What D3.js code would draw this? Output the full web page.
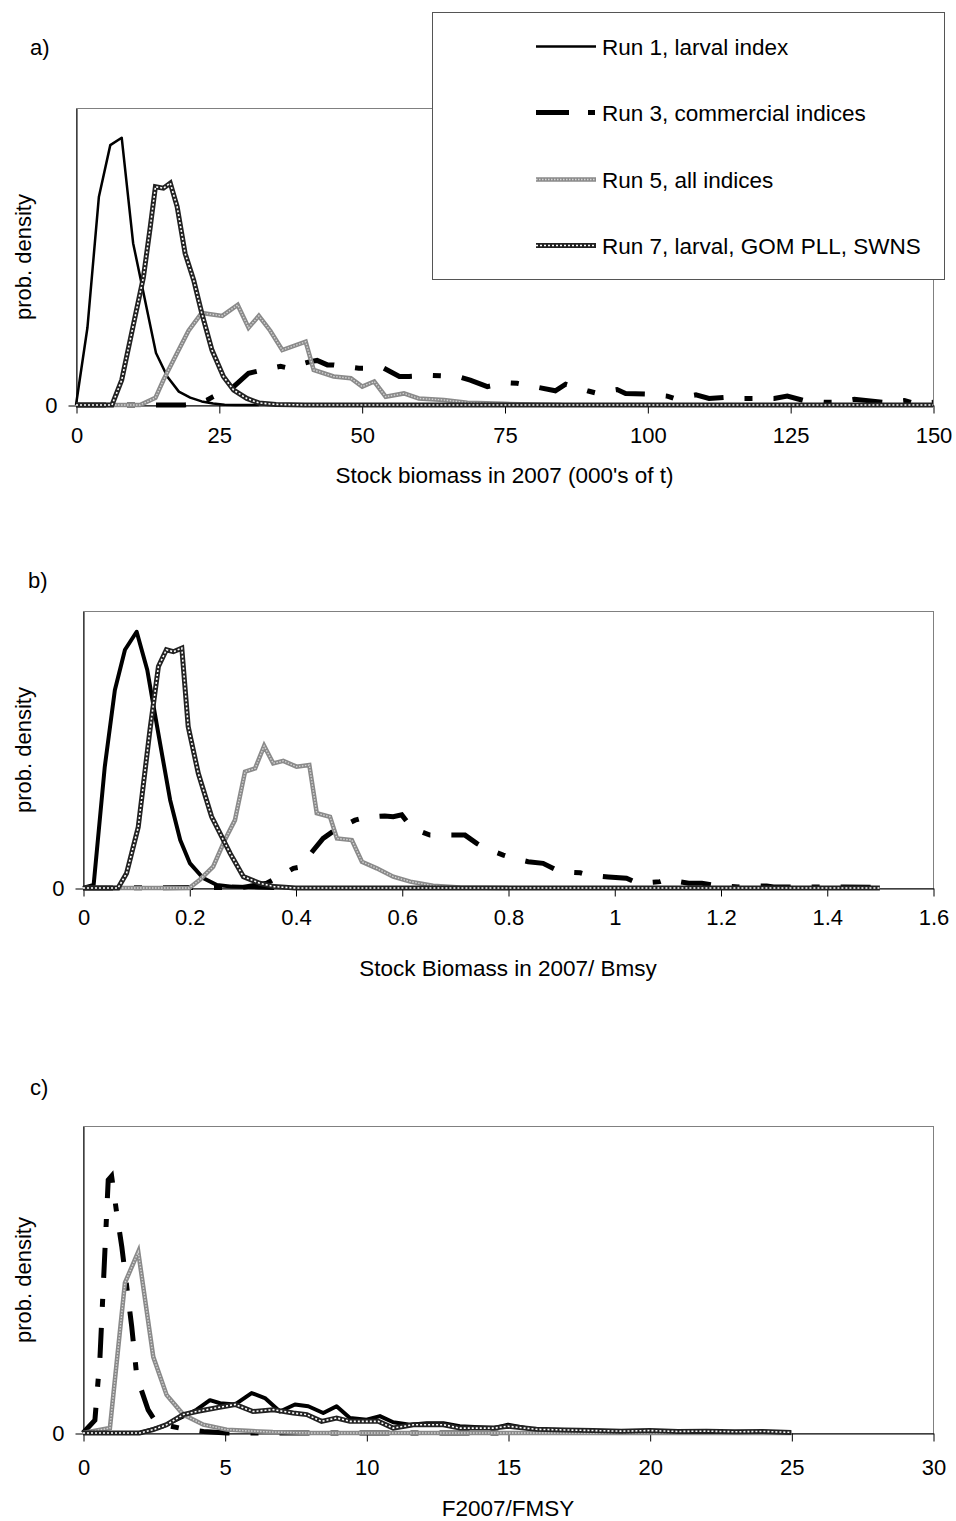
<!DOCTYPE html>
<html>
<head>
<meta charset="utf-8">
<script src="https://cdn.jsdelivr.net/npm/d3@7"></script>
<style>
  body { margin: 0; background: #fff; }
  text { font-family: "Liberation Sans", Arial, sans-serif; fill: #000; }
</style>
</head>
<body>
<div id="chart"></div>
<script>
const width = 956;
const height = 1521;

// legend / series names
const seriesNames = ['Run 1, larval index', 'Run 3, commercial indices', 'Run 5, all indices', 'Run 7, larval, GOM PLL, SWNS'];

// x tick labels per panel
const ticksA = [0, 25, 50, 75, 100, 125, 150];
const ticksB = [0, 0.2, 0.4, 0.6, 0.8, 1, 1.2, 1.4, 1.6];
const ticksC = [0, 5, 10, 15, 20, 25, 30];

// panel a) stock biomass in 2007 (000's of t), relative density
const aRun1 = [[0,0],[2,0.26],[4,0.70],[6,0.875],[8,0.90],[10,0.545],[12,0.36],[14,0.175],[16,0.095],[18,0.045],[20,0.025],[22,0.012],[24,0.005],[26,0.001],[28,0],[32,0]];
const aRun3 = [[0,0],[19,0],[21,0.004],[23,0.017],[24,0.028],[27.6,0.062],[30.2,0.107],[32,0.115],[35.8,0.13],[37,0.125],[41,0.146],[42.2,0.15],[44,0.135],[45.1,0.135],[49.5,0.124],[53.9,0.124],[56.6,0.096],[58.3,0.096],[62.1,0.10],[66.8,0.096],[69,0.084],[72,0.062],[75.5,0.075],[77.2,0.073],[80.7,0.06],[83.9,0.048],[85.7,0.07],[89.5,0.048],[90.9,0.041],[94.7,0.052],[96.2,0.039],[99.7,0.037],[103.5,0.03],[104.7,0.022],[108.5,0.034],[110.8,0.022],[113.7,0.026],[116.9,0.022],[118.6,0.022],[122.2,0.022],[124.5,0.03],[127.4,0.015],[131,0.009],[132.6,0.009],[136.2,0.019],[141.5,0.009],[145,0.015],[146.7,0.006],[150,0.009]];
const aRun5 = [[0,0],[11.2,0],[13.9,0.024],[15.3,0.084],[17.7,0.175],[19.7,0.25],[22,0.31],[25.6,0.30],[28.3,0.337],[30.2,0.26],[32,0.30],[34,0.25],[36.1,0.185],[40.2,0.213],[41.6,0.118],[45.1,0.096],[48.1,0.09],[50.1,0.062],[52.2,0.079],[54.2,0.028],[57.4,0.039],[60,0.022],[64.4,0.017],[68.5,0.008],[75,0.004],[80,0.002],[85,0]];
const aRun7 = [[0,0],[6.3,0],[8,0.084],[10.1,0.275],[11.8,0.43],[13,0.60],[13.9,0.735],[15.3,0.73],[16.5,0.747],[17.7,0.668],[19.1,0.51],[20.6,0.42],[22,0.31],[23.8,0.185],[25.8,0.096],[27.6,0.05],[29.9,0.022],[32,0.007],[35,0.002],[40,0],[150,0]];

// panel b) stock biomass in 2007 / Bmsy
const bRun1 = [[0,0],[0.02,0.011],[0.041,0.438],[0.06,0.715],[0.079,0.86],[0.101,0.925],[0.121,0.787],[0.134,0.643],[0.145,0.523],[0.164,0.318],[0.183,0.173],[0.201,0.09],[0.226,0.036],[0.252,0.011],[0.28,0.005],[0.33,0.002],[0.36,0]];
const bRun3 = [[0,0],[0.3,0.002],[0.346,0.017],[0.358,0.03],[0.396,0.071],[0.408,0.075],[0.434,0.137],[0.452,0.179],[0.474,0.209],[0.512,0.245],[0.531,0.255],[0.568,0.26],[0.584,0.257],[0.60,0.264],[0.619,0.216],[0.653,0.191],[0.703,0.191],[0.719,0.191],[0.741,0.161],[0.757,0.143],[0.791,0.119],[0.81,0.107],[0.838,0.095],[0.866,0.089],[0.898,0.059],[0.936,0.055],[0.951,0.047],[0.989,0.04],[1.023,0.035],[1.045,0.017],[1.086,0.023],[1.099,0.031],[1.14,0.017],[1.165,0.017],[1.2,0.007],[1.234,0.004],[1.243,0.007],[1.287,0.007],[1.3,0.004],[1.38,0.004],[1.43,0.004],[1.5,0.002]];
const bRun5 = [[0,0],[0.2,0],[0.22,0.03],[0.245,0.077],[0.267,0.173],[0.286,0.245],[0.305,0.42],[0.324,0.432],[0.341,0.513],[0.358,0.45],[0.377,0.459],[0.402,0.438],[0.426,0.444],[0.44,0.27],[0.465,0.257],[0.478,0.179],[0.506,0.173],[0.525,0.095],[0.553,0.071],[0.584,0.041],[0.616,0.023],[0.659,0.008],[0.71,0.002],[0.8,0]];
const bRun7 = [[0,0],[0.066,0],[0.082,0.053],[0.104,0.22],[0.126,0.57],[0.142,0.80],[0.157,0.86],[0.17,0.853],[0.186,0.866],[0.198,0.583],[0.217,0.414],[0.242,0.258],[0.277,0.125],[0.302,0.041],[0.333,0.017],[0.36,0.005],[0.4,0],[1.5,0]];

// panel c) F2007/FMSY
const cRun1 = [[0,0],[2,0],[2.83,0.022],[3.54,0.054],[4.01,0.076],[4.48,0.107],[4.84,0.097],[5.37,0.093],[5.95,0.13],[6.42,0.114],[6.95,0.07],[7.48,0.093],[7.95,0.087],[8.48,0.065],[8.95,0.087],[9.42,0.049],[10.01,0.043],[10.48,0.055],[10.95,0.035],[11.54,0.027],[12.13,0.032],[12.72,0.032],[13.3,0.022],[14.5,0.016],[15,0.027],[16,0.01],[17,0.005],[18,0]];
const cRun3 = [[0,0],[0.42,0.042],[0.6,0.248],[0.78,0.606],[0.89,0.824],[1.01,0.837],[1.19,0.716],[1.37,0.606],[1.72,0.346],[1.9,0.183],[2.3,0.075],[2.6,0.032],[3.42,0.016],[4.25,0.005],[5.07,0],[15,0]];
const cRun5 = [[0,0],[0.95,0.016],[1.48,0.489],[1.95,0.59],[2.48,0.248],[2.95,0.124],[3.54,0.06],[4.25,0.027],[5.07,0.011],[5.8,0.007],[6.7,0.003],[8,0],[25,0]];
const cRun7 = [[0,0],[2,0],[2.48,0.011],[2.95,0.027],[3.54,0.06],[4.01,0.07],[4.72,0.082],[5.37,0.093],[6,0.07],[6.72,0.076],[7.42,0.065],[7.9,0.06],[8.42,0.038],[8.95,0.049],[9.42,0.038],[10.42,0.038],[10.95,0.016],[11.66,0.027],[12.72,0.027],[13.3,0.016],[14.5,0.016],[15,0.022],[16,0.012],[17,0.01],[18,0.008],[19,0.006],[20,0.008],[21,0.005],[22,0.006],[23,0.004],[24,0.005],[25,0.002]];

let svg = d3.select('#chart')
            .append('svg')
            .attr('width', width)
            .attr('height', height);
svg.append('rect').attr('width', width).attr('height', height).attr('fill', '#fff');

// draws one of the 4 line styles along a path string
function drawStyled(g, d, kind, thin) {
    if (kind === 0) {
        g.append('path').attr('d', d).attr('fill', 'none')
         .attr('stroke', '#000').attr('stroke-width', thin ? 2.5 : 4)
         .attr('stroke-linejoin', 'round');
    } else if (kind === 1) {
        g.append('path').attr('d', d).attr('fill', 'none')
         .attr('stroke', '#000').attr('stroke-width', 5)
         .attr('stroke-dasharray', thin || '30,21,8,21');
    } else if (kind === 2) {
        g.append('path').attr('d', d).attr('fill', 'none')
         .attr('stroke', '#8a8a8a').attr('stroke-width', 4.5);
        g.append('path').attr('d', d).attr('fill', 'none')
         .attr('stroke', '#d4d4d4').attr('stroke-width', 1.4)
         .attr('stroke-dasharray', '1.5,1.5');
    } else {
        g.append('path').attr('d', d).attr('fill', 'none')
         .attr('stroke', '#222').attr('stroke-width', 5);
        g.append('path').attr('d', d).attr('fill', 'none')
         .attr('stroke', '#ffffff').attr('stroke-width', 1.6)
         .attr('stroke-dasharray', '2,2');
    }
}

function drawPanel(p) {
    const g = svg.append('g');
    const x = d3.scaleLinear().domain([p.ticks[0], p.ticks[p.ticks.length - 1]]).range([p.left, p.right]);
    const y = d3.scaleLinear().domain([0, 1]).range([p.bottom, p.top]);

    g.append('rect')
     .attr('x', p.left + 0.5).attr('y', p.top + 0.5)
     .attr('width', p.right - p.left).attr('height', p.bottom - p.top)
     .attr('fill', 'none').attr('stroke', '#808080');

    const xAxis = g.append('g')
     .attr('transform', `translate(0.5,${p.bottom + 0.5})`)
     .call(d3.axisBottom(x).tickValues(p.ticks).tickFormat(d3.format('')).tickSize(8).tickSizeOuter(0).tickPadding(p.pad));
    const yAxis = g.append('g')
     .attr('transform', `translate(${p.left + 0.5},0.5)`)
     .call(d3.axisLeft(y).tickValues([0]).tickFormat(d3.format('')).tickSize(8).tickSizeOuter(0).tickPadding(11));
    [xAxis, yAxis].forEach(a => {
        a.selectAll('text').attr('font-size', 22).attr('font-family', '"Liberation Sans", Arial, sans-serif').attr('fill', '#000');
        a.selectAll('line, path').attr('stroke', '#000');
    });

    const line = d3.line().x(d => x(d[0])).y(d => y(d[1]));
    p.series.forEach((s, i) => drawStyled(g, line(s), i, p.thin && i === 0));

    g.append('text').attr('x', p.labelX).attr('y', p.labelY).attr('font-size', 22).text(p.label);
    g.append('text')
     .attr('transform', `translate(31,${p.midY}) rotate(-90)`)
     .attr('text-anchor', 'middle').attr('font-size', 22)
     .text('prob. density');
    g.append('text')
     .attr('x', (p.left + p.right) / 2).attr('y', p.titleY)
     .attr('text-anchor', 'middle').attr('font-size', 22.5)
     .text(p.title);
}

drawPanel({ left: 76, right: 933, top: 108, bottom: 405, ticks: ticksA, pad: 14,
            series: [aRun1, aRun3, aRun5, aRun7], thin: true,
            label: 'a)', labelX: 30, labelY: 55, midY: 257, titleY: 483,
            title: "Stock biomass in 2007 (000's of t)" });
drawPanel({ left: 83, right: 933, top: 611, bottom: 888, ticks: ticksB, pad: 13,
            series: [bRun1, bRun3, bRun5, bRun7],
            label: 'b)', labelX: 28, labelY: 588, midY: 750, titleY: 976,
            title: 'Stock Biomass in 2007/ Bmsy' });
drawPanel({ left: 83, right: 933, top: 1126, bottom: 1433, ticks: ticksC, pad: 18,
            series: [cRun1, cRun3, cRun5, cRun7],
            label: 'c)', labelX: 30, labelY: 1095, midY: 1280, titleY: 1516,
            title: 'F2007/FMSY' });

// legend box over panel a
const legend = svg.append('g');
legend.append('rect')
      .attr('x', 432.5).attr('y', 12.5).attr('width', 512).attr('height', 267)
      .attr('fill', '#fff').attr('stroke', '#555');
const legendY = d3.scalePoint().domain(seriesNames).range([46, 245]);
seriesNames.forEach((name, i) => {
    const yy = Math.round(legendY(name)) + 0.5;
    drawStyled(legend, `M536,${yy}L596,${yy}`, i, i === 0 ? true : (i === 1 ? '33,19,7,100' : false));
    legend.append('text')
          .attr('x', 602).attr('y', yy + 8).attr('font-size', 22.5)
          .text(name);
});
</script>
</body>
</html>
